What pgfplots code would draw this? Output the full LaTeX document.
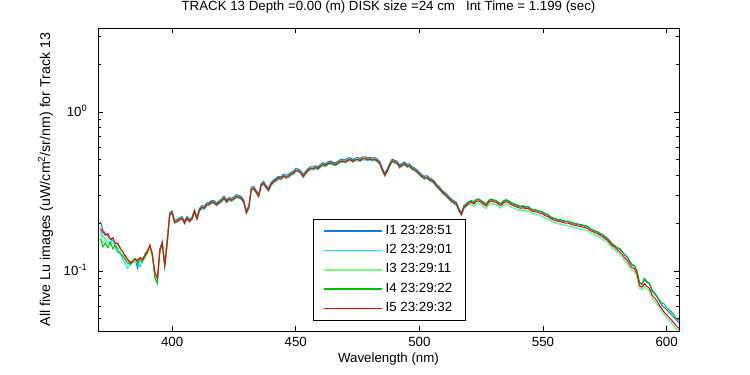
\documentclass[border=0pt]{standalone}
\usepackage{pgfplots}
\usepackage{pgfplotstable}
\pgfplotsset{compat=1.18}
\usepackage{fontspec}
\setmainfont{Liberation Sans}
\definecolor{cIa}{RGB}{20,120,225}
\definecolor{cIb}{RGB}{0,230,255}
\definecolor{cIc}{RGB}{120,255,120}
\definecolor{cId}{RGB}{0,190,0}
\definecolor{cIe}{RGB}{255,0,0}
\newcommand{\ff}{\fontsize{13.3}{16}\selectfont}
\pgfplotstableread{
wl I1 I2 I3 I4 I5
371 0.205 0.180 0.172 0.160 0.185
372 0.180 0.165 0.150 0.142 0.175
373 0.172 0.160 0.158 0.150 0.168
374 0.165 0.150 0.160 0.140 0.172
375 0.160 0.148 0.145 0.152 0.158
376 0.155 0.160 0.150 0.138 0.162
377 0.150 0.140 0.148 0.145 0.149
378 0.148 0.130 0.140 0.136 0.150
379 0.140 0.132 0.138 0.128 0.138
380 0.130 0.118 0.128 0.124 0.133
381 0.125 0.112 0.120 0.118 0.124
382 0.118 0.104 0.116 0.112 0.118
383 0.114 0.110 0.108 0.110 0.112
384 0.116 0.112 0.118 0.114 0.115
385 0.118 0.115 0.114 0.120 0.119
386 0.104 0.118 0.120 0.112 0.116
387 0.122 0.106 0.119 0.118 0.121
388 0.120 0.116 0.122 0.114 0.118
389 0.126 0.122 0.118 0.128 0.124
390 0.134 0.130 0.133 0.135 0.131
391 0.142 0.140 0.138 0.144 0.146
392 0.126 0.124 0.122 0.125 0.128
393 0.096 0.094 0.098 0.090 0.098
394 0.086 0.083 0.086 0.084 0.090
395 0.138 0.132 0.134 0.130 0.135
396 0.154 0.150 0.148 0.150 0.150
397 0.112 0.108 0.110 0.106 0.108
398 0.160 0.152 0.148 0.150 0.150
399 0.232 0.222 0.224 0.227 0.225
400 0.239 0.229 0.231 0.234 0.232
401 0.208 0.199 0.201 0.204 0.202
402 0.211 0.202 0.204 0.207 0.205
403 0.216 0.207 0.209 0.212 0.210
404 0.220 0.211 0.213 0.216 0.214
405 0.206 0.197 0.199 0.202 0.200
406 0.220 0.211 0.213 0.216 0.214
407 0.211 0.202 0.204 0.207 0.205
408 0.218 0.209 0.211 0.214 0.212
409 0.243 0.232 0.235 0.238 0.236
410 0.218 0.209 0.211 0.214 0.212
411 0.247 0.236 0.239 0.242 0.240
412 0.258 0.246 0.249 0.253 0.250
413 0.255 0.244 0.247 0.250 0.248
414 0.268 0.256 0.259 0.263 0.260
415 0.270 0.258 0.261 0.265 0.262
416 0.278 0.266 0.269 0.273 0.270
417 0.276 0.264 0.267 0.271 0.268
418 0.268 0.256 0.259 0.263 0.260
419 0.276 0.264 0.267 0.271 0.268
420 0.284 0.272 0.275 0.279 0.276
421 0.295 0.282 0.285 0.289 0.286
422 0.280 0.268 0.271 0.275 0.272
423 0.290 0.278 0.281 0.285 0.282
424 0.286 0.274 0.277 0.281 0.278
425 0.293 0.280 0.283 0.287 0.284
426 0.302 0.289 0.292 0.296 0.293
427 0.299 0.286 0.289 0.293 0.290
428 0.294 0.281 0.284 0.288 0.285
429 0.278 0.266 0.269 0.273 0.270
430 0.239 0.229 0.231 0.234 0.232
431 0.258 0.246 0.249 0.253 0.250
432 0.335 0.320 0.323 0.328 0.325
433 0.340 0.325 0.328 0.333 0.330
434 0.321 0.307 0.310 0.315 0.312
435 0.304 0.291 0.294 0.298 0.295
436 0.355 0.340 0.343 0.348 0.345
437 0.366 0.350 0.353 0.359 0.355
438 0.345 0.330 0.333 0.338 0.335
439 0.332 0.317 0.320 0.325 0.322
440 0.361 0.345 0.348 0.354 0.350
441 0.373 0.357 0.360 0.366 0.362
442 0.383 0.366 0.370 0.376 0.372
443 0.394 0.377 0.381 0.387 0.383
444 0.391 0.374 0.378 0.384 0.380
445 0.406 0.388 0.392 0.398 0.394
446 0.400 0.382 0.386 0.392 0.388
447 0.404 0.386 0.390 0.396 0.392
448 0.417 0.399 0.403 0.409 0.405
449 0.422 0.404 0.408 0.414 0.410
450 0.441 0.422 0.426 0.432 0.428
451 0.438 0.419 0.423 0.429 0.425
452 0.427 0.409 0.413 0.419 0.415
453 0.404 0.386 0.390 0.396 0.392
454 0.424 0.406 0.410 0.416 0.412
455 0.441 0.422 0.426 0.432 0.428
456 0.453 0.433 0.438 0.444 0.440
457 0.451 0.431 0.436 0.442 0.438
458 0.459 0.439 0.444 0.450 0.446
459 0.453 0.433 0.438 0.444 0.440
460 0.469 0.448 0.453 0.460 0.455
461 0.480 0.459 0.464 0.471 0.466
462 0.474 0.453 0.458 0.465 0.460
463 0.486 0.465 0.470 0.477 0.472
464 0.492 0.471 0.476 0.483 0.478
465 0.484 0.463 0.468 0.475 0.470
466 0.479 0.458 0.463 0.470 0.465
467 0.490 0.469 0.474 0.481 0.476
468 0.501 0.479 0.484 0.491 0.486
469 0.505 0.483 0.488 0.495 0.490
470 0.499 0.477 0.482 0.489 0.484
471 0.510 0.488 0.493 0.500 0.495
472 0.517 0.494 0.499 0.507 0.502
473 0.503 0.481 0.486 0.493 0.488
474 0.513 0.491 0.496 0.503 0.498
475 0.517 0.494 0.499 0.507 0.502
476 0.509 0.487 0.492 0.499 0.494
477 0.521 0.498 0.503 0.511 0.506
478 0.523 0.500 0.505 0.513 0.508
479 0.515 0.493 0.498 0.505 0.500
480 0.519 0.496 0.501 0.509 0.504
481 0.513 0.491 0.496 0.503 0.498
482 0.517 0.494 0.499 0.507 0.502
483 0.505 0.483 0.488 0.495 0.490
484 0.488 0.467 0.472 0.479 0.474
485 0.443 0.424 0.428 0.434 0.430
486 0.412 0.394 0.398 0.404 0.400
487 0.438 0.419 0.423 0.429 0.425
488 0.476 0.455 0.460 0.467 0.462
489 0.505 0.483 0.488 0.495 0.490
490 0.496 0.475 0.480 0.487 0.482
491 0.490 0.469 0.474 0.481 0.476
492 0.464 0.443 0.448 0.455 0.450
493 0.476 0.455 0.460 0.467 0.462
494 0.484 0.463 0.468 0.475 0.470
495 0.469 0.448 0.453 0.460 0.455
496 0.472 0.451 0.456 0.463 0.458
497 0.453 0.433 0.438 0.444 0.440
498 0.445 0.426 0.430 0.436 0.432
499 0.433 0.414 0.418 0.424 0.420
500 0.417 0.399 0.403 0.409 0.405
501 0.404 0.386 0.390 0.396 0.392
502 0.394 0.377 0.381 0.387 0.383
503 0.398 0.380 0.384 0.390 0.386
504 0.386 0.369 0.373 0.379 0.375
505 0.379 0.362 0.366 0.372 0.368
506 0.369 0.353 0.356 0.362 0.358
507 0.350 0.335 0.338 0.343 0.340
508 0.340 0.325 0.328 0.333 0.330
509 0.324 0.310 0.313 0.318 0.315
510 0.314 0.300 0.303 0.308 0.305
511 0.305 0.292 0.295 0.299 0.296
512 0.293 0.280 0.283 0.287 0.284
513 0.283 0.271 0.274 0.278 0.275
514 0.276 0.264 0.267 0.271 0.268
515 0.270 0.258 0.261 0.265 0.262
516 0.247 0.236 0.239 0.242 0.240
517 0.233 0.223 0.225 0.228 0.226
518 0.258 0.246 0.249 0.253 0.250
519 0.266 0.254 0.257 0.261 0.258
520 0.274 0.262 0.265 0.269 0.266
521 0.275 0.261 0.262 0.278 0.270
522 0.269 0.255 0.256 0.272 0.264
523 0.279 0.264 0.266 0.282 0.274
524 0.282 0.266 0.268 0.284 0.276
525 0.275 0.261 0.262 0.278 0.270
526 0.267 0.253 0.254 0.270 0.262
527 0.261 0.247 0.248 0.264 0.256
528 0.275 0.261 0.262 0.278 0.270
529 0.282 0.266 0.268 0.284 0.276
530 0.277 0.262 0.264 0.280 0.272
531 0.275 0.261 0.262 0.278 0.270
532 0.267 0.253 0.254 0.270 0.262
533 0.263 0.249 0.250 0.266 0.258
534 0.273 0.259 0.260 0.276 0.268
535 0.278 0.263 0.265 0.281 0.273
536 0.275 0.261 0.262 0.278 0.270
537 0.267 0.253 0.254 0.270 0.262
538 0.263 0.249 0.250 0.266 0.258
539 0.259 0.245 0.246 0.262 0.254
540 0.255 0.241 0.243 0.258 0.250
541 0.253 0.239 0.241 0.255 0.248
542 0.255 0.241 0.243 0.258 0.250
543 0.251 0.237 0.239 0.253 0.246
544 0.253 0.239 0.241 0.255 0.248
545 0.245 0.232 0.233 0.247 0.240
546 0.241 0.228 0.229 0.243 0.236
547 0.241 0.228 0.229 0.243 0.236
548 0.238 0.225 0.226 0.240 0.233
549 0.235 0.222 0.223 0.237 0.230
550 0.233 0.220 0.221 0.235 0.228
551 0.226 0.214 0.215 0.229 0.222
552 0.224 0.212 0.213 0.227 0.220
553 0.218 0.207 0.208 0.220 0.214
554 0.214 0.203 0.204 0.216 0.210
555 0.212 0.201 0.202 0.214 0.208
556 0.209 0.198 0.199 0.211 0.205
557 0.208 0.197 0.198 0.210 0.204
558 0.206 0.195 0.196 0.208 0.202
559 0.204 0.193 0.194 0.206 0.200
560 0.204 0.193 0.194 0.206 0.200
561 0.202 0.191 0.192 0.204 0.198
562 0.199 0.188 0.189 0.201 0.195
563 0.197 0.186 0.187 0.199 0.193
564 0.196 0.185 0.186 0.198 0.192
565 0.194 0.183 0.184 0.196 0.190
566 0.193 0.182 0.183 0.195 0.189
567 0.191 0.180 0.181 0.193 0.187
568 0.189 0.179 0.179 0.191 0.185
569 0.184 0.174 0.175 0.185 0.180
570 0.181 0.171 0.172 0.182 0.177
571 0.177 0.168 0.169 0.179 0.174
572 0.175 0.166 0.167 0.177 0.172
573 0.171 0.162 0.163 0.173 0.168
574 0.168 0.159 0.160 0.170 0.165
575 0.163 0.154 0.155 0.165 0.160
576 0.159 0.151 0.151 0.161 0.156
577 0.153 0.145 0.146 0.155 0.150
578 0.147 0.139 0.140 0.148 0.144
579 0.144 0.136 0.137 0.145 0.141
580 0.139 0.131 0.132 0.140 0.136
581 0.137 0.127 0.127 0.139 0.132
582 0.132 0.122 0.122 0.133 0.127
583 0.126 0.116 0.116 0.127 0.121
584 0.122 0.112 0.112 0.123 0.117
585 0.114 0.106 0.106 0.116 0.110
586 0.109 0.101 0.101 0.110 0.105
587 0.107 0.099 0.099 0.108 0.103
588 0.100 0.092 0.092 0.101 0.096
589 0.084 0.078 0.078 0.085 0.081
590 0.082 0.076 0.076 0.083 0.079
591 0.088 0.080 0.080 0.090 0.083
592 0.085 0.077 0.077 0.086 0.080
593 0.083 0.075 0.075 0.084 0.078
594 0.075 0.068 0.068 0.077 0.071
595 0.072 0.065 0.065 0.073 0.068
596 0.069 0.062 0.062 0.070 0.065
597 0.065 0.059 0.059 0.066 0.061
598 0.061 0.056 0.056 0.063 0.058
599 0.059 0.053 0.053 0.062 0.055
600 0.057 0.051 0.051 0.059 0.053
601 0.055 0.049 0.049 0.057 0.051
602 0.053 0.047 0.047 0.055 0.049
603 0.051 0.045 0.045 0.053 0.047
604 0.049 0.043 0.043 0.050 0.045
605 0.047 0.042 0.042 0.049 0.0435
}\spectra
\begin{document}
\begin{tikzpicture}
\begin{axis}[
  scale only axis,
  width=581pt, height=303pt,
  ymode=log,
  xmin=370, xmax=605,
  ymin=0.0419, ymax=3.376,
  axis line style={black, line width=0.8pt},
  tick style={black, line width=0.8pt},
  tick align=inside,
  major tick length=5.5pt,
  minor tick length=3pt,
  xtick={400,450,500,550,600},
  xticklabels={400,450,500,550,600},
  ytick={0.1,1},
  yticklabels={10\textsuperscript{-1},10\textsuperscript{0}},
  minor ytick={0.05,0.06,0.07,0.08,0.09,0.2,0.3,0.4,0.5,0.6,0.7,0.8,0.9,2,3},
  xticklabel style={font=\ff, anchor=base, inner sep=0pt, yshift=-15.5pt},
  yticklabel style={font=\ff, anchor=base east, inner sep=0pt, xshift=-10.5pt, yshift=-4.75pt},
  title={TRACK 13 Depth =0.00 (m) DISK size =24 cm \ \ Int Time = 1.199 (sec)},
  title style={font=\ff, at={(axis description cs:0.5,1.0396)}, anchor=base, inner sep=0pt},
  xlabel={Wavelength (nm)},
  xlabel style={font=\ff, at={(axis description cs:0.5,-0.104)}, anchor=base, inner sep=0pt},
  ylabel={All five Lu images (uW/cm\textsuperscript{2}/sr/nm) for Track 13},
  ylabel style={font=\fontsize{14.2}{17}\selectfont, at={(axis description cs:-0.0826,0.5)}, anchor=base, inner sep=0pt},
  legend cell align=left,
  legend image code/.code={\draw[#1, line width=1.6pt] (0pt,0pt) -- (58pt,0pt);},
  legend style={at={(axis description cs:0.3695,0.3686)}, anchor=north west,
    draw=black, fill=white, font=\ff,
    inner xsep=10pt, inner ysep=5pt, row sep=6.3pt,
    nodes={inner xsep=3pt, inner ysep=0pt, text height=9.5pt, text depth=3.5pt}},
  every axis legend/.append style={line width=0.8pt},
]
\addplot[color=cIa, line width=1pt] table[x=wl,y=I1]{\spectra};
\addlegendentry{I1 23:28:51}
\addplot[color=cIb, line width=1pt] table[x=wl,y=I2]{\spectra};
\addlegendentry{I2 23:29:01}
\addplot[color=cIc, line width=1pt] table[x=wl,y=I3]{\spectra};
\addlegendentry{I3 23:29:11}
\addplot[color=cId, line width=1pt] table[x=wl,y=I4]{\spectra};
\addlegendentry{I4 23:29:22}
\addplot[color=cIe, line width=1pt] table[x=wl,y=I5]{\spectra};
\addlegendentry{I5 23:29:32}
\end{axis}
\pgfresetboundingbox
\path[use as bounding box] ([xshift=-98pt,yshift=-44pt]current axis.south west) rectangle ([xshift=71pt,yshift=28pt]current axis.north east);
\end{tikzpicture}
\end{document}
